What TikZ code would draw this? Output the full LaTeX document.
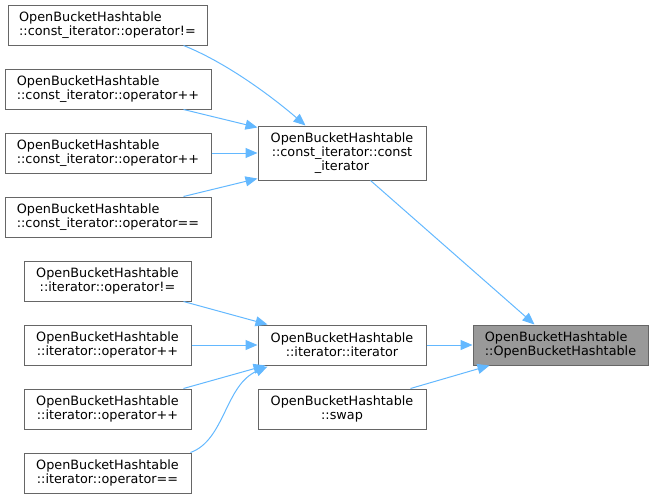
\documentclass[tikz,border=0pt]{standalone}
\usepackage{fontspec}
\setmainfont{DejaVu Sans}
\usetikzlibrary{arrows.meta}
\definecolor{edgec}{HTML}{63B8FF}
\definecolor{bordc}{HTML}{666666}
\definecolor{hlc}{HTML}{999999}
\begin{document}
\begin{tikzpicture}[x=1pt,y=-1pt,
  box/.style={draw=bordc, line width=1pt, inner sep=0pt, font=\fontsize{12.8}{14}\selectfont, minimum height=40pt},
  lbox/.style={box, align=left},
  cbox/.style={box, align=center},
  link/.style={draw=edgec, line width=1pt, -{Triangle[length=12pt,width=10pt]}}]
\useasboundingbox (0,0) rectangle (653,499);
\node[lbox, minimum width=199pt] (a1) at (107.5,25) {OpenBucketHashtable\\::const\_iterator::operator!=};
\node[lbox, minimum width=206pt] (a2) at (108,89) {OpenBucketHashtable\\::const\_iterator::operator++};
\node[lbox, minimum width=206pt] (a3) at (108,153) {OpenBucketHashtable\\::const\_iterator::operator++};
\node[lbox, minimum width=206pt] (a4) at (108,217) {OpenBucketHashtable\\::const\_iterator::operator==};
\node[cbox, minimum width=168pt, minimum height=54pt] (c) at (342,153) {OpenBucketHashtable\\::const\_iterator::const\\\_iterator};
\node[cbox, minimum width=167pt] (b1) at (107.5,281) {OpenBucketHashtable\\::iterator::operator!=};
\node[cbox, minimum width=167pt] (b2) at (107.5,345) {OpenBucketHashtable\\::iterator::operator++};
\node[cbox, minimum width=167pt] (b3) at (107.5,409) {OpenBucketHashtable\\::iterator::operator++};
\node[cbox, minimum width=167pt] (b4) at (107.5,473) {OpenBucketHashtable\\::iterator::operator==};
\node[cbox, minimum width=168pt] (i) at (342,345) {OpenBucketHashtable\\::iterator::iterator};
\node[cbox, minimum width=168pt] (s) at (342,409) {OpenBucketHashtable\\::swap};
\node[lbox, minimum width=175pt, fill=hlc] (o) at (560.5,345) {OpenBucketHashtable\\::OpenBucketHashtable};

\draw[link] ([xshift=-24pt]a1.south east) .. controls (225,62) and (270,95) .. ([xshift=48pt]c.north west);
\draw[link] ([xshift=-28pt]a2.south east) -- ([yshift=-2pt]c.north west);
\draw[link] (a3.east) -- (c.west);
\draw[link] ([xshift=-28pt]a4.north east) -- ([yshift=2pt]c.south west);
\draw[link] ([xshift=-56pt]c.south east) -- ([xshift=62pt]o.north west);
\draw[link] ([xshift=-8pt]b1.south east) -- ([xshift=10pt]i.north west);
\draw[link] (b2.east) -- (i.west);
\draw[link] ([xshift=-8pt]b3.north east) -- ([xshift=8pt]i.south west);
\draw[link] ([xshift=-1pt]b4.north east) .. controls (225,440) and (225,385) .. ([xshift=10pt,yshift=-1pt]i.south west);
\draw[link] (i.east) -- (o.west);
\draw[link] ([xshift=-16pt]s.north east) -- ([xshift=17pt]o.south west);
\end{tikzpicture}
\end{document}
